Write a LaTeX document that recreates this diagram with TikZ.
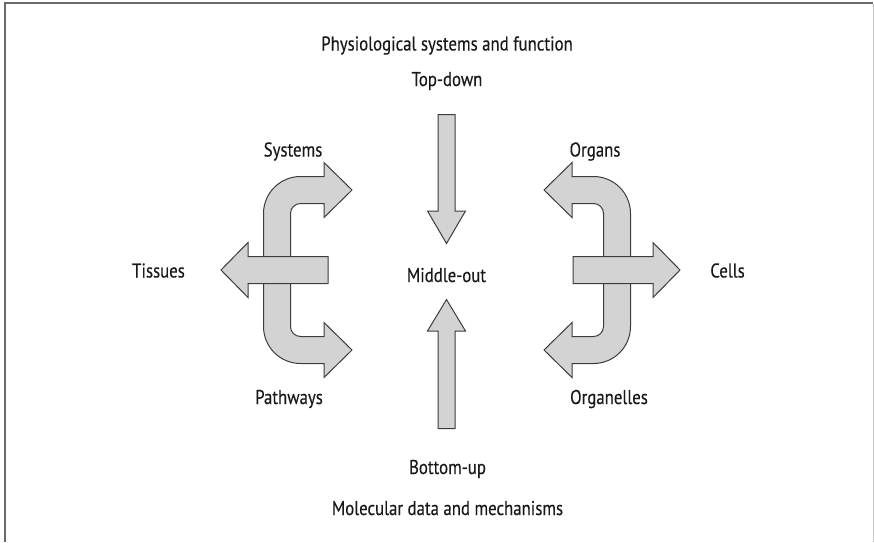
\documentclass[tikz,border=0pt]{standalone}
\usepackage{fontspec}
\setmainfont{PT Sans}[FakeStretch=0.84, FakeBold=0.25]
\definecolor{arrowfill}{HTML}{D3D3D3}
\definecolor{arrowline}{HTML}{3C3C3C}
\definecolor{frameline}{HTML}{6A6A6A}
\definecolor{frameedge}{HTML}{C8C8C8}
\tikzset{
  blockarrow/.style={fill=arrowfill, draw=arrowline, line width=1pt, line join=miter},
  caption/.style={anchor=base, inner sep=0pt, font=\fontsize{20}{23}\selectfont, text=black!90}
}
\begin{document}
\begin{tikzpicture}[x=1pt,y=-1pt]
\useasboundingbox (0,0) rectangle (874,542);
% frame
\draw[frameline, line width=2pt] (5,542) -- (5,2.5) -- (873,2.5);
\draw[frameedge, line width=1pt] (873,3.5) -- (873,542);

% left branching arrow (up-right and down-right)
\draw[blockarrow] (352,190) -- (324,162.5) -- (324,176.5) -- (300.5,176.5)
  arc[start angle=270, end angle=180, radius=37] -- (263.5,326.5)
  arc[start angle=180, end angle=90, radius=37] -- (324,363.5) -- (324,377.5)
  -- (352,350) -- (324,322.5) -- (324,336.5) -- (300.5,336.5)
  arc[start angle=90, end angle=180, radius=10] -- (290.5,213.5)
  arc[start angle=180, end angle=270, radius=10] -- (324,203.5) -- (324,217.5) -- cycle;
% left horizontal arrow
\draw[blockarrow] (221,270) -- (248,242.5) -- (248,256.5) -- (328,256.5)
  -- (328,283.5) -- (248,283.5) -- (248,297.5) -- cycle;

% right branching arrow (up-left and down-left)
\draw[blockarrow] (544,190) -- (572,162.5) -- (572,176.5) -- (593.5,176.5)
  arc[start angle=270, end angle=360, radius=37] -- (630.5,326.5)
  arc[start angle=0, end angle=90, radius=37] -- (572,363.5) -- (572,377.5)
  -- (544,350) -- (572,322.5) -- (572,336.5) -- (593.5,336.5)
  arc[start angle=90, end angle=0, radius=10] -- (603.5,213.5)
  arc[start angle=360, end angle=270, radius=10] -- (572,203.5) -- (572,217.5) -- cycle;
% right horizontal arrow
\draw[blockarrow] (680,270) -- (653,242.5) -- (653,256.5) -- (573,256.5)
  -- (573,283.5) -- (653,283.5) -- (653,297.5) -- cycle;

% top-down arrow
\draw[blockarrow] (438,114.5) -- (455,114.5) -- (455,211) -- (465.5,211)
  -- (446.5,243.5) -- (427.5,211) -- (438,211) -- cycle;
% bottom-up arrow
\draw[blockarrow] (446.5,299.5) -- (465.5,331) -- (455,331) -- (455,428.5)
  -- (438,428.5) -- (438,331) -- (427.5,331) -- cycle;

% labels
\node[caption] (physio) at (447,50.5) {Physiological systems and function};
\node[caption] (topdown) at (447,86) {Top-down};
\node[caption] (systems) at (293,156.5) {Systems};
\node[caption] (organs) at (595,156.5) {Organs};
\node[caption] (tissues) at (158.5,277.5) {Tissues};
\node[caption] (middle) at (446.5,282) {Middle-out};
\node[caption] (cells) at (727.5,277.5) {Cells};
\node[caption] (pathways) at (289,404) {Pathways};
\node[caption] (organelles) at (609,404) {Organelles};
\node[caption] (bottomup) at (447.5,474) {Bottom-up};
\node[caption] (molecular) at (447.5,515) {Molecular data and mechanisms};
\end{tikzpicture}
\end{document}
